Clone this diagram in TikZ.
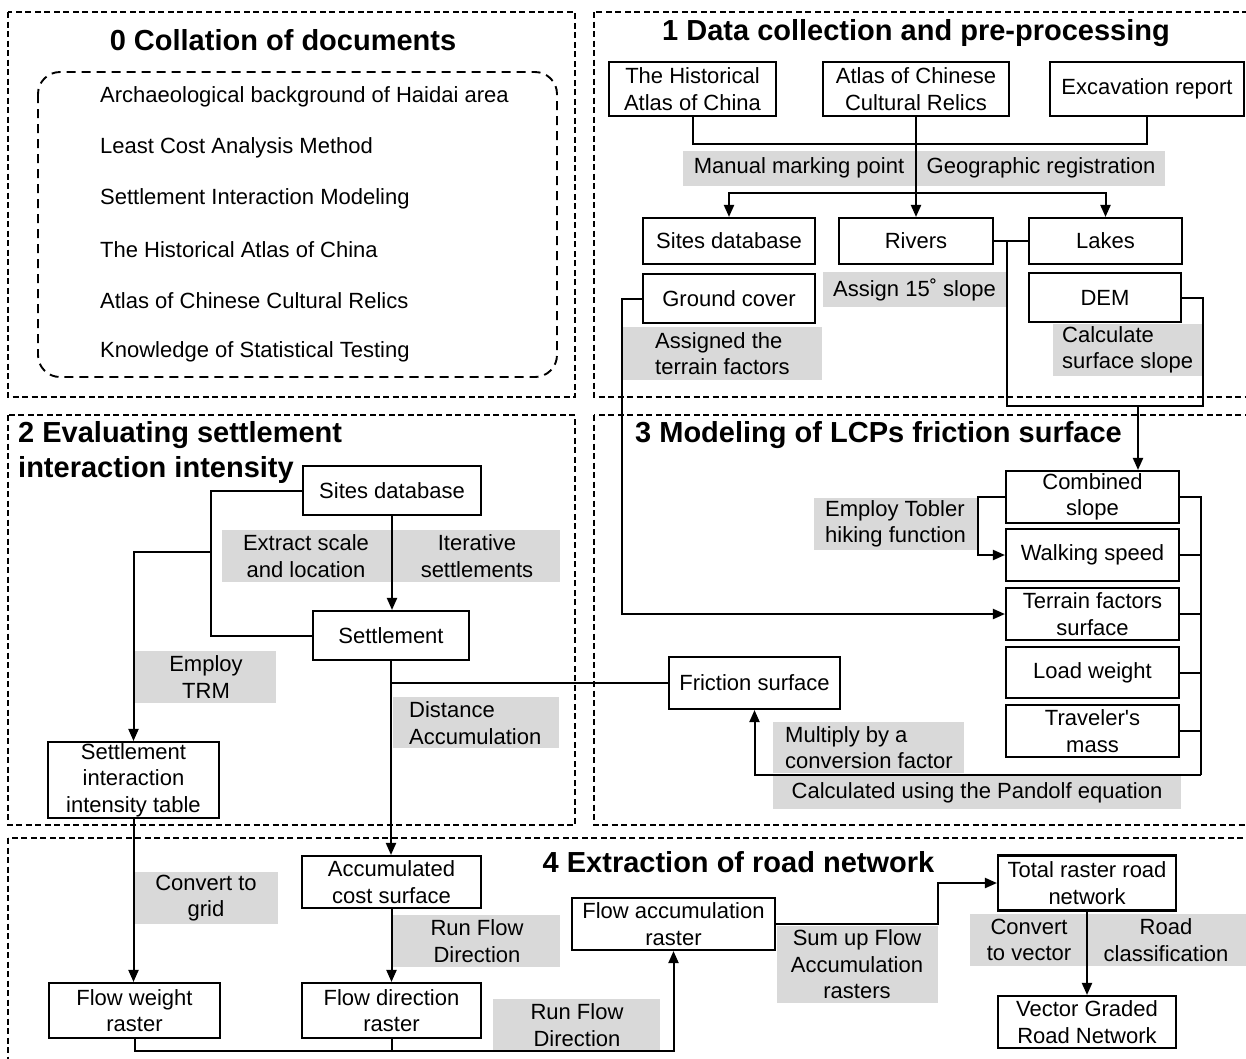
\documentclass[tikz,border=0pt]{standalone}
\usepackage{fontspec}
\setmainfont{Liberation Sans}
\usetikzlibrary{arrows.meta}
\definecolor{lbg}{HTML}{D9D9D9}
\newcommand{\mfs}{\fontsize{22}{26.5}\selectfont}
\newcommand{\tfs}{\fontsize{29}{35}\selectfont\bfseries}
\begin{document}
\begin{tikzpicture}[x=1pt,y=-1pt,
  wh/.style 2 args={minimum width=#1pt, minimum height=#2pt},
  bx/.style={draw, line width=2.1pt, fill=white, inner sep=0pt, align=center, font=\mfs},
  gl/.style={fill=lbg, inner sep=0pt},
  tx/.style={inner sep=0pt, align=center, font=\mfs},
  ttl/.style={inner sep=0pt, align=left, font=\tfs},
  panel/.style={draw, line width=1.6pt, dash pattern=on 6pt off 3.5pt},
  inr/.style={draw, line width=1.9pt, dash pattern=on 9pt off 6pt, rounded corners=22pt},
  ln/.style={line width=2pt},
  arr/.style={line width=2pt, -{Triangle[length=12pt,width=10pt]}}]
\useasboundingbox (0,0) rectangle (1246,1058);
\fill[white] (0,0) rectangle (1246,1058);

% ---------- panels ----------
\draw[panel] (8,12) rectangle (575,397);
\draw[panel] (594,12) rectangle (1258,397);
\draw[panel] (8,415) rectangle (575,825);
\draw[panel] (594,415) rectangle (1258,825);
\draw[panel] (8,838) rectangle (1258,1070);

% ---------- panel 0 ----------
\node[ttl] (t0) at (283,40) {0 Collation of documents};
\draw[inr] (38,72) rectangle (557,377);
\node[tx, anchor=west] (i1) at (100,97) {Archaeological background of Haidai area};
\node[tx, anchor=west] (i2) at (100,148) {Least Cost Analysis Method};
\node[tx, anchor=west] (i3) at (100,199) {Settlement Interaction Modeling};
\node[tx, anchor=west] (i4) at (100,250) {The Historical Atlas of China};
\node[tx, anchor=west] (i5) at (100,301) {Atlas of Chinese Cultural Relics};
\node[tx, anchor=west] (i6) at (100,352) {Knowledge of Statistical Testing};

% ---------- panel 1 ----------
\node[ttl] (t1) at (916,33) {1 Data collection and pre-processing};
\node[gl, wh={482}{35}] (g1) at (924,168.5) {};
\node[gl, wh={183}{35}] (g2) at (914.5,289.5) {};
\node[gl, wh={200}{53}] (g3) at (722,353.5) {};
\node[gl, wh={149}{52}] (g4) at (1127.5,350) {};
\node[tx] (g1a) at (799,168) {Manual marking point};
\node[tx] (g1b) at (1041,168) {Geographic registration};
\node[tx] (g2a) at (914.5,289.5) {Assign 15˚ slope};
\node[tx, anchor=west, align=left] (g3a) at (655,353.5) {Assigned the\\terrain factors};
\node[tx, anchor=west, align=left] (g4a) at (1062,350) {Calculate\\surface slope};

\node[bx, wh={167}{54}] (hist) at (692.5,89) {The Historical\\Atlas of China};
\node[bx, wh={186}{54}] (atlas) at (916,89) {Atlas of Chinese\\Cultural Relics};
\node[bx, wh={194}{54}] (excav) at (1147,89) {Excavation report};
\node[bx, wh={172}{46}] (sites) at (729,241) {Sites database};
\node[bx, wh={154}{46}] (rivers) at (916,241) {Rivers};
\node[bx, wh={153}{46}] (lakes) at (1105.5,241) {Lakes};
\node[bx, wh={172}{49}] (ground) at (729,298.5) {Ground cover};
\node[bx, wh={152}{49}] (dem) at (1105,297.5) {DEM};

\coordinate (split) at (916,193);
\coordinate (join1) at (1203,406);
\coordinate (drop) at (1138,406);
\draw[ln] (hist.south) |- (1147,144) -- (excav.south);
\draw[arr] (atlas.south) -- (rivers.north);
\draw[arr] (split) -| (sites.north);
\draw[arr] (split) -| (lakes.north);
\draw[ln] (rivers.east) -- (lakes.west);
\draw[ln] (1007,241) |- (join1) |- (dem.east);

% ---------- panel 3 ----------
\node[ttl] (t3) at (878.5,435) {3 Modeling of LCPs friction surface};
\node[gl, wh={163}{52}] (g5) at (895.5,524) {};
\node[gl, wh={191}{51}] (g6) at (868.5,747.5) {};
\node[gl, wh={408}{33}] (g7) at (977,792.5) {};
\node[tx, anchor=west, align=left] (g5a) at (825,524) {Employ Tobler\\hiking function};
\node[tx, anchor=west, align=left] (g6a) at (785,747.5) {Multiply by a\\conversion factor};
\node[tx] (g7a) at (977,792.5) {Calculated using the Pandolf equation};

\node[bx, wh={173}{52}] (comb) at (1092.5,497) {Combined\\slope};
\node[bx, wh={173}{52}] (walk) at (1092.5,555) {Walking speed};
\node[bx, wh={173}{52}] (terr) at (1092.5,614) {Terrain factors\\surface};
\node[bx, wh={173}{51}] (load) at (1092.5,672.5) {Load weight};
\node[bx, wh={173}{52}] (trav) at (1092.5,731) {Traveler\textquotesingle s\\mass};
\node[bx, wh={171}{52}] (fric) at (754.5,683) {Friction surface};

\draw[arr] (drop) -- (drop |- comb.north);
\draw[arr] (ground.west) -- (622,298.5) |- (terr.west);
\draw[arr] (comb.west) -- (978,497) |- (walk.west);
\draw[ln] (comb.east) -- (1201,497) -- (1201,775);
\draw[arr] (1201,775) -| (fric.south);
\draw[ln] (walk.east) -- (1201,555);
\draw[ln] (terr.east) -- (1201,614);
\draw[ln] (load.east) -- (1201,672.5);
\draw[ln] (trav.east) -- (1201,731);

% ---------- panel 2 ----------
\node[ttl, anchor=west] (t2) at (18,452.5) {2 Evaluating settlement\\interaction intensity};
\node[gl, wh={338}{52}] (g8) at (391,556) {};
\node[gl, wh={141}{52}] (g9) at (205.5,677) {};
\node[gl, wh={166}{51}] (g10) at (476,722.5) {};
\node[tx] (g8a) at (306,556) {Extract scale\\and location};
\node[tx] (g8b) at (477,556) {Iterative\\settlements};
\node[tx] (g9a) at (206,677) {Employ\\TRM};
\node[tx, anchor=west, align=left] (g10a) at (409,723) {Distance\\Accumulation};

\node[bx, wh={178}{49}] (sites2) at (392,490.5) {Sites database};
\node[bx, wh={156}{49}] (settle) at (391,635.5) {Settlement};
\node[bx, wh={171}{76}] (table) at (133.5,780) {Settlement\\interaction\\intensity table};

\draw[arr] (sites2.south) -- (sites2.south |- settle.north);
\draw[ln] (sites2.west) -- (211,490.5) |- (settle.west);
\draw[arr] (211,552) -| (table.north);
\draw[ln] (fric.west) -- (settle.south |- fric.west);

% ---------- panel 4 ----------
\node[ttl] (t4) at (738.5,862) {4 Extraction of road network};
\node[gl, wh={143}{52}] (g11) at (206.5,898) {};
\node[gl, wh={167}{52}] (g12) at (476.5,941) {};
\node[gl, wh={167}{52}] (g13) at (576.5,1025) {};
\node[gl, wh={161}{77}] (g14) at (857.5,964.5) {};
\node[gl, wh={276}{52}] (g15) at (1108,940) {};
\node[tx] (g11a) at (206,898) {Convert to\\grid};
\node[tx] (g12a) at (477,941) {Run Flow\\Direction};
\node[tx] (g13a) at (577,1025) {Run Flow\\Direction};
\node[tx] (g14a) at (857,964.5) {Sum up Flow\\Accumulation\\rasters};
\node[tx] (g15a) at (1029,940) {Convert\\to vector};
\node[tx] (g15b) at (1166,940) {Road\\classification};

\node[bx, wh={179}{52}] (accum) at (391.5,882) {Accumulated\\cost surface};
\node[bx, wh={171}{55}] (fw) at (134.5,1010.5) {Flow weight\\raster};
\node[bx, wh={179}{55}] (fd) at (391.5,1010.5) {Flow direction\\raster};
\node[bx, wh={203}{52}] (facc) at (673.5,924) {Flow accumulation\\raster};
\node[bx, wh={178}{55}] (total) at (1087,883) {Total raster road\\network};
\node[bx, wh={178}{52}] (vect) at (1087,1022) {Vector Graded\\Road Network};

\draw[arr] (settle.south) -- (settle.south |- accum.north);
\draw[arr] (table.south) -- (table.south |- fw.north);
\draw[arr] (accum.south) -- (accum.south |- fd.north);
\draw[arr] (fw.south) -- (134.5,1051) -| (facc.south);
\draw[ln] (fd.south) -- (391.5,1051);
\draw[arr] (facc.east) -- (938,924) |- (total.west);
\draw[arr] (total.south) -- (vect.north);
\end{tikzpicture}
\end{document}
